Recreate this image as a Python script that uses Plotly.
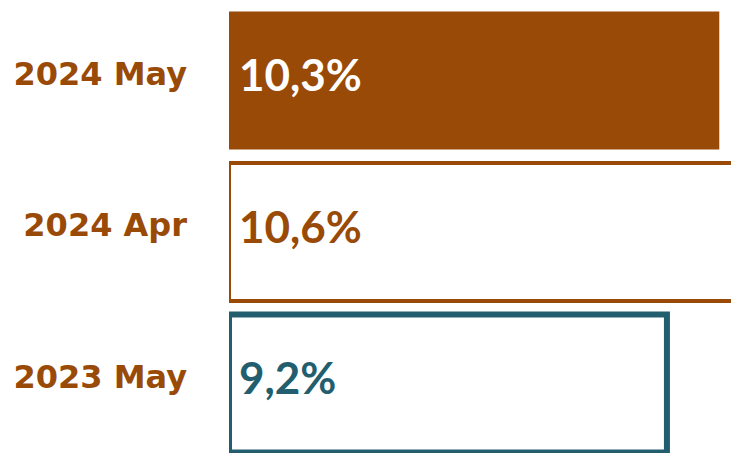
import plotly.graph_objects as go

categories = ["2024 May", "2024 Apr", "2023 May"]
values = [10.3, 10.6, 9.2]
fill_colors = ["#994A07", "#FFFFFF", "#FFFFFF"]
line_colors = ["#994A07", "#994A07", "#225E6E"]
line_widths = [0, 4, 6]
text_colors = ["#FFFFFF", "#994A07", "#225E6E"]
value_labels = [f"{v:.1f}".replace(".", ",") + "%" for v in values]

fig = go.Figure()
fig.add_trace(go.Bar(
    x=values,
    y=categories,
    orientation="h",
    marker=dict(color=fill_colors, line=dict(color=line_colors, width=line_widths)),
    hoverinfo="skip",
))

for cat, lab, col in zip(categories, value_labels, text_colors):
    fig.add_annotation(
        x=0, y=cat, xref="x", yref="y",
        text=lab, showarrow=False,
        xanchor="left", yanchor="middle",
        xshift=8, yshift=6,
        font=dict(family="Lato", size=44, color=col, weight="bold"),
    )

fig.update_layout(
    width=731, height=453,
    margin=dict(l=229, r=0, t=0, b=0, pad=0),
    paper_bgcolor="white", plot_bgcolor="white",
    showlegend=False,
    bargap=0.09,
    hovermode=False,
    xaxis=dict(range=[0, 10.546], visible=False, showgrid=False, zeroline=False),
    yaxis=dict(
        type="category",
        range=[2.459, -0.531],
        showgrid=False, zeroline=False, showline=False, ticks="",
        ticklabelstandoff=41,
        ticklabelshift=7,
        tickfont=dict(family="DejaVu Sans", size=32, color="#994A07", weight="bold"),
    ),
)

fig.write_html(
    "out.html",
    config={"displayModeBar": False, "staticPlot": True},
    post_script="document.body.style.margin='0';document.body.style.overflow='hidden';",
)
